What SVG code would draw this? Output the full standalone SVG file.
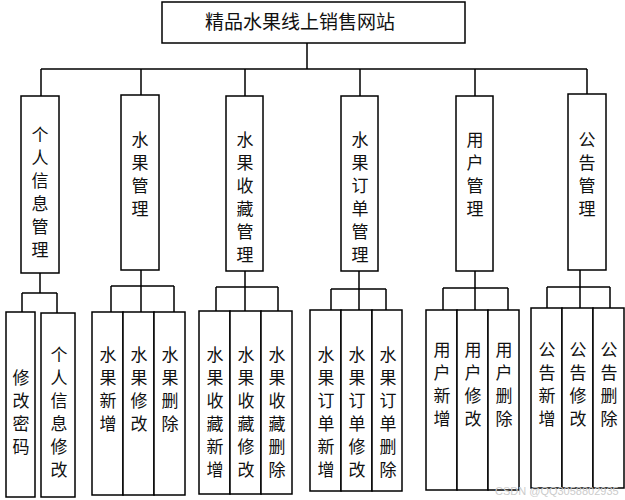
<svg xmlns="http://www.w3.org/2000/svg" width="625" height="500" viewBox="0 0 625 500">
<style>
rect{fill:#fff;stroke:#000;stroke-width:1.5}
.c{fill:none;stroke:#000;stroke-width:1.5}
text{font-family:"Noto Sans CJK SC",sans-serif;font-size:17px;fill:#111}
.t{font-size:19px}
.v{writing-mode:vertical-rl;letter-spacing:6px}
.wm{font-family:"Liberation Sans",sans-serif;font-size:11px;fill:#ccc}
</style>
<rect width="625" height="500" style="fill:#fff;stroke:none"/>
<g id="connectors">
<path class="c" d="M307 43V69M41 69H587M41 69V96M141 69V95M245 69V96M360 69V96M475 69V96M587 69V94"/>
<path class="c" d="M40 273V293M22 293H57M22 293V312M57 293V313"/>
<path class="c" d="M141 270V286M111 286H174M111 286V312M141 286V312M174 286V312"/>
<path class="c" d="M245 271V287M216 287H278M216 287V311M245 287V311M278 287V311"/>
<path class="c" d="M359 271V289M331 289H386M331 289V310M359 289V310M386 289V310"/>
<path class="c" d="M475 271V288M443 288H508M443 288V310M475 288V310M508 288V310"/>
<path class="c" d="M580 270V287M547 287H610M547 287V308M580 287V308M610 287V308"/>
</g>
<g id="root"><rect x="162" y="2" width="303" height="41"/><text class="t" x="300" y="29" text-anchor="middle">精品水果线上销售网站</text></g>
<g id="n1"><rect x="21" y="96" width="38" height="177"/><text class="v" x="40" y="126">个人信息管理</text></g>
<g id="n2"><rect x="121" y="95" width="38" height="175"/><text class="v" x="140" y="131">水果管理</text></g>
<g id="n3"><rect x="226" y="96" width="37" height="175"/><text class="v" x="245" y="131">水果收藏管理</text></g>
<g id="n4"><rect x="341" y="96" width="37" height="175"/><text class="v" x="360" y="131">水果订单管理</text></g>
<g id="n5"><rect x="456" y="96" width="37" height="175"/><text class="v" x="475" y="131">用户管理</text></g>
<g id="n6"><rect x="568" y="94" width="38" height="176"/><text class="v" x="587" y="131">公告管理</text></g>
<g id="n11"><rect x="6" y="312" width="29" height="185"/><text class="v" x="21" y="369">修改密码</text></g>
<g id="n12"><rect x="41" y="313" width="34" height="184"/><text class="v" x="59" y="346">个人信息修改</text></g>
<g id="n21"><rect x="92" y="312" width="31" height="183"/><text class="v" x="108" y="346">水果新增</text></g>
<g id="n22"><rect x="123" y="312" width="31" height="183"/><text class="v" x="139" y="346">水果修改</text></g>
<g id="n23"><rect x="154" y="312" width="31" height="183"/><text class="v" x="170" y="346">水果删除</text></g>
<g id="n31"><rect x="199" y="311" width="31" height="183"/><text class="v" x="215" y="346">水果收藏新增</text></g>
<g id="n32"><rect x="230" y="311" width="31" height="183"/><text class="v" x="246" y="346">水果收藏修改</text></g>
<g id="n33"><rect x="261" y="311" width="31" height="183"/><text class="v" x="277" y="346">水果收藏删除</text></g>
<g id="n41"><rect x="310" y="310" width="31" height="181"/><text class="v" x="326" y="346">水果订单新增</text></g>
<g id="n42"><rect x="341" y="310" width="31" height="181"/><text class="v" x="357" y="346">水果订单修改</text></g>
<g id="n43"><rect x="372" y="310" width="30" height="181"/><text class="v" x="388" y="346">水果订单删除</text></g>
<g id="n51"><rect x="426" y="310" width="31" height="180"/><text class="v" x="442" y="341">用户新增</text></g>
<g id="n52"><rect x="457" y="310" width="31" height="180"/><text class="v" x="473" y="341">用户修改</text></g>
<g id="n53"><rect x="488" y="310" width="31" height="180"/><text class="v" x="504" y="341">用户删除</text></g>
<g id="n61"><rect x="531" y="308" width="31" height="180"/><text class="v" x="547" y="341">公告新增</text></g>
<g id="n62"><rect x="562" y="308" width="31" height="180"/><text class="v" x="578" y="341">公告修改</text></g>
<g id="n63"><rect x="593" y="308" width="31" height="180"/><text class="v" x="609" y="341">公告删除</text></g>
<text class="wm" x="495" y="495">CSDN @QQ3058802935</text>
</svg>
